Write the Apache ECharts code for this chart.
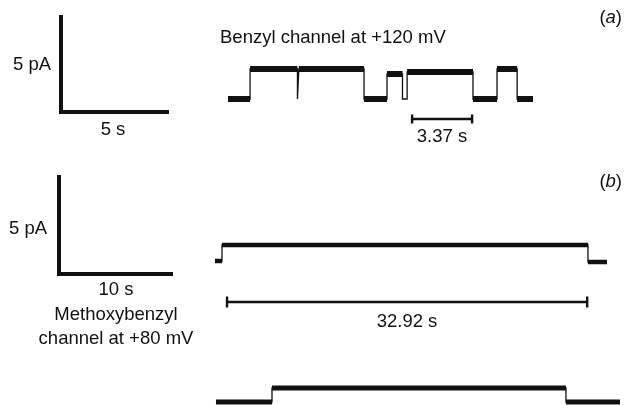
<!DOCTYPE html>
<html><head><meta charset="utf-8">
<script src="https://cdn.jsdelivr.net/npm/echarts@6/dist/echarts.min.js"></script>
<style>html,body{margin:0;padding:0;background:#fff}#c{width:624px;height:405px}</style>
</head><body><div id="c"></div>
<script>
// ---- data (seconds, pA) ----
const benzylEdges  = [0, 1.24, 3.90, 3.98, 7.64, 8.93, 9.80, 10.06, 13.76, 15.11, 16.24, 17.13];
const benzylLevels = [0, 1.53, 0, 1.53, 0, 1.28, 0, 1.38, 0, 1.53, 0];
const benzylBar = [10.34, 13.71];          // 3.37 s
const methoxyEdges1  = [0, 0.64, 34.09, 35.83];
const methoxyLevels1 = [0, 0.80, -0.05];
const methoxyBar = [1.10, 34.02];          // 32.92 s
const methoxyEdges2  = [0.09, 5.21, 32.08, 37.02];
const methoxyLevels2 = [0, 0.70, 0];
const scaleA = {sec: 5, pA: 5};
const scaleB = {sec: 10, pA: 5};
const labels = {
  a: 'Benzyl channel at +120 mV', barA: '3.37 s', scaleAx: '5 s', scaleAy: '5 pA',
  barB: '32.92 s', scaleBx: '10 s', scaleBy: '5 pA', b1: 'Methoxybenzyl', b2: 'channel at +80 mV'
};

function stepPts(edges, levels){
  const p=[];
  for(let i=0;i<levels.length;i++){p.push([edges[i],levels[i]]);p.push([edges[i+1],levels[i]]);}
  return p;
}
function bandPts(edges, levels, minDur){
  const p=[];
  for(let i=0;i<levels.length;i++){
    if(edges[i+1]-edges[i]<minDur) continue;
    p.push([edges[i],levels[i]]);p.push([edges[i+1],levels[i]]);p.push('-');
  }
  return p;
}
function barPts(x0,x1,y,cap){
  return [[x0,y+cap],[x0,y-cap],[x0,y],[x1,y],[x1,y+cap],[x1,y-cap]];
}
const FONT = '"Liberation Sans", Arial, sans-serif';
const FS = 18.5;
const col = '#111';
function ln(gi, data, w, extra){
  return Object.assign({type:'line', xAxisIndex:gi, yAxisIndex:gi, data:data, symbol:'none', clip:false,
    silent:true, animation:false, lineStyle:{color:col, width:w, cap:'butt', join:'miter'}}, extra||{});
}
const grids = [
  {left:61, top:15, width:108, height:97},
  {left:228, top:59.8, width:305, height:68.6},
  {left:59, top:175, width:114, height:99},
  {left:215, top:231, width:392, height:80},
  {left:215, top:372, width:405, height:33}
];
const xr = [[0,scaleA.sec],[0,17.13],[0,scaleB.sec],[0,35.83],[0,37.02]];
const yr = [[0,scaleA.pA],[-1.5,2.0],[0,scaleB.pA],[-2.5,1.5],[-0.15,1.5]];
function txt(t,x,y,extra){
  return {type:'text', x:x, y:y, silent:true, style:Object.assign({text:t, font:FS+'px '+FONT, fill:'#111', align:'center', verticalAlign:'middle'}, extra||{})};
}
const chart = echarts.init(document.getElementById('c'), null, {renderer:'canvas'});
chart.setOption({
  animation:false,
  backgroundColor:'#fff',
  grid: grids.map(g=>Object.assign({show:false},g)),
  xAxis: xr.map((r,i)=>({type:'value', gridIndex:i, min:r[0], max:r[1], show:false})),
  yAxis: yr.map((r,i)=>({type:'value', gridIndex:i, min:r[0], max:r[1], show:false})),
  series: [
    ln(0, [[0,scaleA.pA],[0,0],[scaleA.sec,0]], 4),
    ln(1, stepPts(benzylEdges, benzylLevels), 1.3),
    ln(1, bandPts(benzylEdges, benzylLevels, 0.3), 6, {connectNulls:false}),
    ln(1, barPts(benzylBar[0], benzylBar[1], -1.02, 0.23), 2.4),
    ln(2, [[0,scaleB.pA],[0,0],[scaleB.sec,0]], 4),
    ln(3, stepPts(methoxyEdges1, methoxyLevels1), 1.3),
    ln(3, bandPts(methoxyEdges1, methoxyLevels1, 0.3), 4.5, {connectNulls:false}),
    ln(3, barPts(methoxyBar[0], methoxyBar[1], -2.05, 0.28), 2.4),
    ln(4, stepPts(methoxyEdges2, methoxyLevels2), 1.3),
    ln(4, bandPts(methoxyEdges2, methoxyLevels2, 0.3), 5, {connectNulls:false})
  ],
  graphic: [
    txt(labels.scaleAy, 32, 65),
    txt(labels.scaleAx, 113, 130),
    txt(labels.a, 220, 38, {align:'left'}),
    txt(labels.barA, 442, 137),
    txt('({i|a})', 622, 18, {align:'right', rich:{i:{font:'italic '+FS+'px '+FONT, fill:'#111'}}}),
    txt('({i|b})', 622, 182, {align:'right', rich:{i:{font:'italic '+FS+'px '+FONT, fill:'#111'}}}),
    txt(labels.scaleBy, 28, 229),
    txt(labels.scaleBx, 116, 290),
    txt(labels.b1, 116, 315),
    txt(labels.b2, 116, 339),
    txt(labels.barB, 407, 322)
  ]
});
</script></body></html>
